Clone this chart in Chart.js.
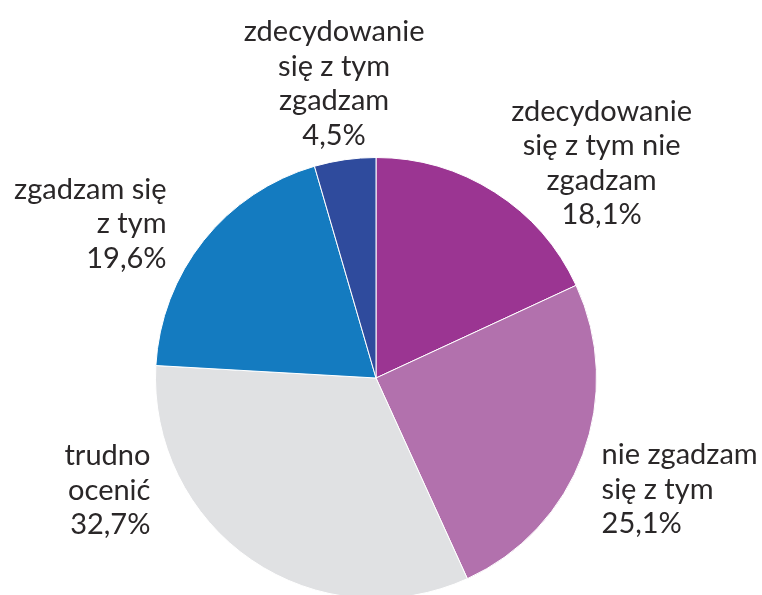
<!DOCTYPE html>
<html>
<head>
<meta charset="utf-8">
<script src="https://cdn.jsdelivr.net/npm/chart.js@4"></script>
<style>
  html, body { margin: 0; padding: 0; background: #fff; overflow: hidden; }
  #wrap { width: 762px; height: 600px; position: relative; }
</style>
</head>
<body>
<div id="wrap"><canvas id="pieChart" width="762" height="600"></canvas></div>
<script>
const categories = [
  ['zdecydowanie', 'się z tym nie', 'zgadzam'],
  ['nie zgadzam', 'się z tym'],
  ['trudno', 'ocenić'],
  ['zgadzam się', 'z tym'],
  ['zdecydowanie', 'się z tym', 'zgadzam']
];
const values = [18.1, 25.1, 32.7, 19.6, 4.5];
const colors = ['#9b3592', '#b271ad', '#e0e1e3', '#147bc0', '#2f4b9d'];

// where each label block sits, relative to pie centre, in units of radius
const placement = [
  { dx: 1.023, dy: -0.975, align: 'center' },
  { dx: 1.023, dy: 0.505, align: 'left' },
  { dx: -1.023, dy: 0.51, align: 'right' },
  { dx: -0.95, dy: -0.70, align: 'right' },
  { dx: -0.19, dy: -1.335, align: 'center' }
];

const outsideLabels = {
  id: 'outsideLabels',
  afterDraw(chart) {
    const ctx = chart.ctx;
    const meta = chart.getDatasetMeta(0);
    ctx.save();
    ctx.font = '29px Lato';
    ctx.fillStyle = '#2a2728';
    ctx.textBaseline = 'middle';
    const lh = 34.5;
    meta.data.forEach((arc, i) => {
      const r = arc.outerRadius;
      const p = placement[i];
      const lines = categories[i].concat([values[i].toFixed(1).replace('.', ',') + '%']);
      const cx = arc.x + p.dx * r;
      const cy = arc.y + p.dy * r;
      ctx.textAlign = p.align;
      const top = cy - (lines.length - 1) * lh / 2;
      lines.forEach((t, j) => ctx.fillText(t, cx, top + j * lh));
    });
    ctx.restore();
  }
};

new Chart(document.getElementById('pieChart'), {
  type: 'pie',
  data: {
    labels: categories.map(c => c.join(' ')),
    datasets: [{
      data: values,
      backgroundColor: colors,
      borderColor: '#ffffff',
      borderWidth: 1
    }]
  },
  options: {
    responsive: false,
    animation: false,
    layout: { padding: { left: 155, right: 165, top: 157, bottom: 1 } },
    plugins: {
      legend: { display: false },
      tooltip: { enabled: false }
    }
  },
  plugins: [outsideLabels]
});
</script>
</body>
</html>
